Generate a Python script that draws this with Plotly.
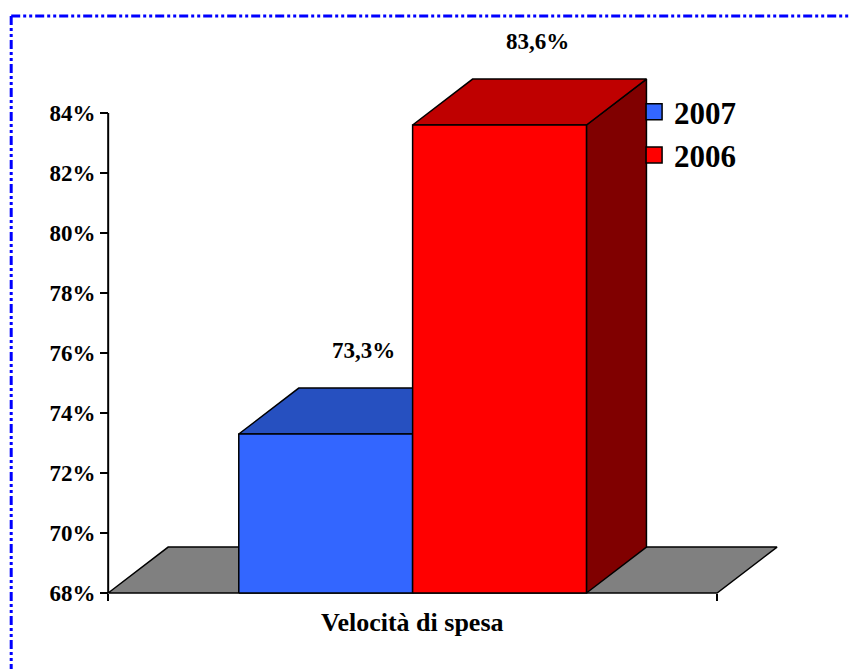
import plotly.graph_objects as go

# ---------------- data ----------------
categories = ["Velocità di spesa"]
series_names = ["2007", "2006"]
series_values = [73.3, 83.6]
y_ticks = [68, 70, 72, 74, 76, 78, 80, 82, 84]
y_tick_labels = [f"{t}%" for t in y_ticks]

# ---------------- styles ----------------
front_colors = ["#3366FF", "#FF0000"]
top_colors = ["#2650C0", "#BF0000"]
side_colors = ["#1A3A99", "#800000"]
floor_color = "#808080"
FONT = "Liberation Serif, Times New Roman, serif"

W, H = 850, 669
Y_BASE = y_ticks[0]
DEPTH_X = 0.0985     # depth offset in x-axis units
DEPTH_Y = 1.53       # depth offset in y-axis units
BAR_W = 0.2855
GAP = (1 - len(series_values) * BAR_W) / 2

PX_PER_X = 609
PX_PER_Y = 30
x_range = [-0.02, 1.105]
y_range = [67.8, 87.2]
AXIS_X_PX = 108
AXIS_Y_PX = 593
ml = AXIS_X_PX - (0 - x_range[0]) * PX_PER_X
plot_w = (x_range[1] - x_range[0]) * PX_PER_X
mr = W - ml - plot_w
plot_h = (y_range[1] - y_range[0]) * PX_PER_Y
mb = H - (AXIS_Y_PX + (Y_BASE - y_range[0]) * PX_PER_Y)
mt = H - mb - plot_h


def px2paper_x(px):
    return (px - ml) / plot_w


def px2paper_y(py):
    return (H - mb - py) / plot_h


fig = go.Figure()

poly = dict(mode="lines", fill="toself", line=dict(color="black", width=1.5),
            hoverinfo="skip", showlegend=False)

# floor
fig.add_trace(go.Scatter(
    x=[0, 1, 1 + DEPTH_X, DEPTH_X, 0],
    y=[Y_BASE, Y_BASE, Y_BASE + DEPTH_Y, Y_BASE + DEPTH_Y, Y_BASE],
    fillcolor=floor_color, **poly))

# bars
for i, (name, v) in enumerate(zip(series_names, series_values)):
    x0 = GAP + i * BAR_W
    x1 = x0 + BAR_W
    # side
    fig.add_trace(go.Scatter(
        x=[x1, x1 + DEPTH_X, x1 + DEPTH_X, x1, x1],
        y=[Y_BASE, Y_BASE + DEPTH_Y, v + DEPTH_Y, v, Y_BASE],
        fillcolor=side_colors[i], **poly))
    # top
    fig.add_trace(go.Scatter(
        x=[x0, x1, x1 + DEPTH_X, x0 + DEPTH_X, x0],
        y=[v, v, v + DEPTH_Y, v + DEPTH_Y, v],
        fillcolor=top_colors[i], **poly))
    # front
    fig.add_trace(go.Scatter(
        x=[x0, x1, x1, x0, x0],
        y=[Y_BASE, Y_BASE, v, v, Y_BASE],
        fillcolor=front_colors[i], name=name,
        mode="lines", fill="toself", line=dict(color="black", width=1.5),
        hovertemplate=f"{name}: {v}%<extra></extra>", showlegend=False))
    # value label
    fig.add_annotation(
        x=(x0 + x1) / 2 + 0.062, y=v + 2.8, xref="x", yref="y",
        text=f"{v:.1f}%".replace(".", ","), showarrow=False,
        font=dict(family=FONT, size=23, color="black", weight="bold"))

# category label
fig.add_annotation(
    x=0.5, y=px2paper_y(623), xref="x", yref="paper", yanchor="middle",
    text=categories[0], showarrow=False,
    font=dict(family=FONT, size=26, color="black", weight="bold"))

# legend entries
for i, name in enumerate(series_names):
    fig.add_trace(go.Scatter(
        x=[None], y=[None], mode="markers", name=name,
        marker=dict(symbol="square", size=18, color=front_colors[i],
                    line=dict(color="black", width=1.5))))

# y axis line
fig.add_trace(go.Scatter(
    x=[0, 0], y=[Y_BASE, y_ticks[-1]], mode="lines",
    line=dict(color="black", width=2), hoverinfo="skip", showlegend=False))

# frame border (dash-dot)
border = dict(color="#0000FF", width=3, dash="9px,3px,3px,3px,3px,3px")
fig.add_shape(type="line", xref="paper", yref="paper",
              x0=px2paper_x(11), x1=px2paper_x(870),
              y0=px2paper_y(16), y1=px2paper_y(16), line=border)
fig.add_shape(type="line", xref="paper", yref="paper",
              x0=px2paper_x(11), x1=px2paper_x(11),
              y0=px2paper_y(16), y1=px2paper_y(690), line=border)

fig.update_layout(
    width=W, height=H,
    margin=dict(l=ml, r=mr, t=mt, b=mb, pad=0),
    paper_bgcolor="white", plot_bgcolor="white",
    showlegend=True,
    legend=dict(x=px2paper_x(634), y=px2paper_y(85), xanchor="left", yanchor="top",
                font=dict(family=FONT, size=31, color="black", weight="bold"),
                bgcolor="rgba(0,0,0,0)", tracegroupgap=0),
    xaxis=dict(range=x_range, anchor="free", position=px2paper_y(AXIS_Y_PX),
               showgrid=False, zeroline=False, showline=False,
               tickvals=[0, 1], ticktext=["", ""], ticks="outside",
               ticklen=7, tickwidth=2, tickcolor="black"),
    yaxis=dict(range=y_range, anchor="free", position=px2paper_x(AXIS_X_PX),
               showgrid=False, zeroline=False, showline=False,
               tickvals=y_ticks, ticktext=y_tick_labels, ticks="outside",
               ticklen=8, tickwidth=2, tickcolor="black",
               tickfont=dict(family=FONT, size=23, color="black", weight="bold")),
)

fig.write_html("out.html", config={"displayModeBar": False},
               post_script="document.body.style.margin='0';")
